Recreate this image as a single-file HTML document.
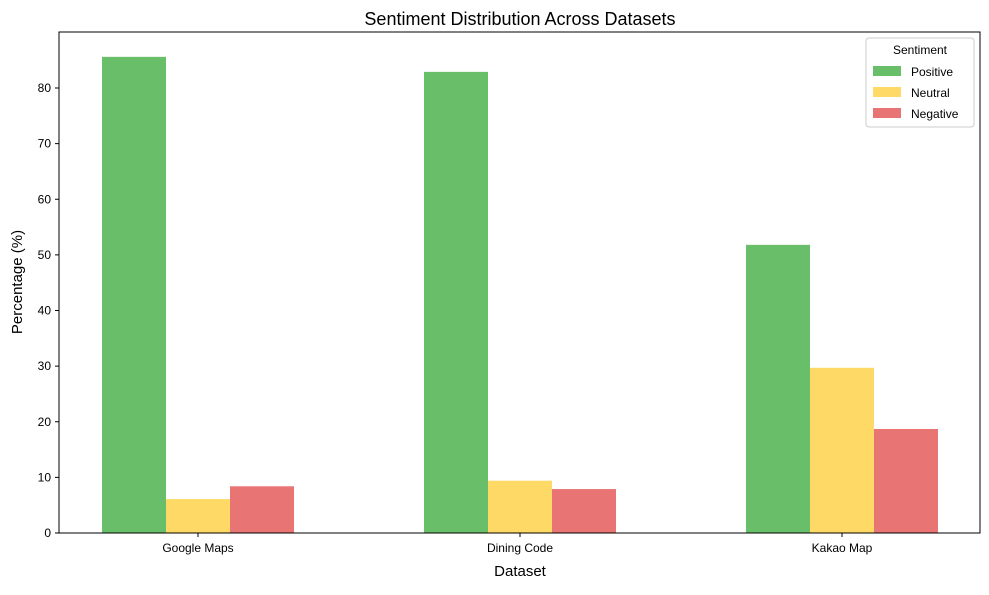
<!DOCTYPE html>
<html><head><meta charset="utf-8"><style>
body{margin:0;background:#fff;font-family:"Liberation Sans","Noto Sans CJK KR",sans-serif;}
svg text{font-family:"Liberation Sans","Noto Sans CJK KR",sans-serif;fill:#000;}
</style></head><body>
<svg id="chart" width="989" height="590">
<text x="520" y="25" text-anchor="middle" font-size="18">Sentiment Distribution Across Datasets</text>
<g id="bars"></g>
<g id="axes"></g>
<rect x="59" y="32" width="921" height="501" fill="none" stroke="#000" stroke-width="1"/>
<text x="520" y="576" text-anchor="middle" font-size="15">Dataset</text>
<text transform="translate(22,282) rotate(-90)" text-anchor="middle" font-size="15">Percentage (%)</text>
<g>
<rect x="866" y="38" width="108" height="89" fill="#fff" stroke="#ccc" rx="3"/>
<text x="920" y="54" text-anchor="middle" font-size="12">Sentiment</text>
<g id="legend-items"></g>
</g>
</svg>
<script>
const categories=["Google Maps","Dining Code","Kakao Map"];
const seriesNames=["Positive","Neutral","Negative"];
const positive=[85.6,82.9,51.8];
const neutral=[6.1,9.4,29.7];
const negative=[8.4,7.9,18.7];
const yTicks=[0,10,20,30,40,50,60,70,80];
const colors=["#69bf69","#fed966","#e87573"];
const series=[positive,neutral,negative];
const NS="http://www.w3.org/2000/svg";
const x0=198,step=322,bw=64,yb=533,ppu=5.5625;
const y=v=>yb-v*ppu;
const xc=i=>x0+i*step;
const bars=document.getElementById('bars');
series.forEach((s,si)=>{s.forEach((v,i)=>{
 const r=document.createElementNS(NS,'rect');
 r.setAttribute('x',xc(i)-1.5*bw+si*bw);r.setAttribute('y',y(v));
 r.setAttribute('width',bw);r.setAttribute('height',yb-y(v));r.setAttribute('fill',colors[si]);
 
 
 bars.appendChild(r);
});});
const ax=document.getElementById('axes');
yTicks.forEach(t=>{
 const l=document.createElementNS(NS,'line');
 l.setAttribute('x1',55);l.setAttribute('x2',59);l.setAttribute('y1',y(t));l.setAttribute('y2',y(t));l.setAttribute('stroke','#000');
 ax.appendChild(l);
 const tx=document.createElementNS(NS,'text');
 tx.setAttribute('x',51);tx.setAttribute('y',y(t)+4);tx.setAttribute('text-anchor','end');tx.setAttribute('font-size','12');
 tx.textContent=t;
 
 
 ax.appendChild(tx);
});
categories.forEach((c,i)=>{
 const l=document.createElementNS(NS,'line');
 l.setAttribute('x1',xc(i));l.setAttribute('x2',xc(i));l.setAttribute('y1',533);l.setAttribute('y2',537);l.setAttribute('stroke','#000');
 ax.appendChild(l);
 const tx=document.createElementNS(NS,'text');
 tx.setAttribute('x',xc(i));tx.setAttribute('y',552);tx.setAttribute('text-anchor','middle');tx.setAttribute('font-size','12');
 tx.textContent=c;
 
 
 ax.appendChild(tx);
});
const li=document.getElementById('legend-items');
seriesNames.forEach((n,i)=>{
 const r=document.createElementNS(NS,'rect');
 r.setAttribute('x',873);r.setAttribute('y',66+i*21);r.setAttribute('width',28);r.setAttribute('height',10);r.setAttribute('fill',colors[i]);
 
 
 li.appendChild(r);
 const t=document.createElementNS(NS,'text');
 t.setAttribute('x',911);t.setAttribute('y',76+i*21);t.setAttribute('font-size','12');t.textContent=n;
 
 
 li.appendChild(t);
});
</script>
</body></html>
